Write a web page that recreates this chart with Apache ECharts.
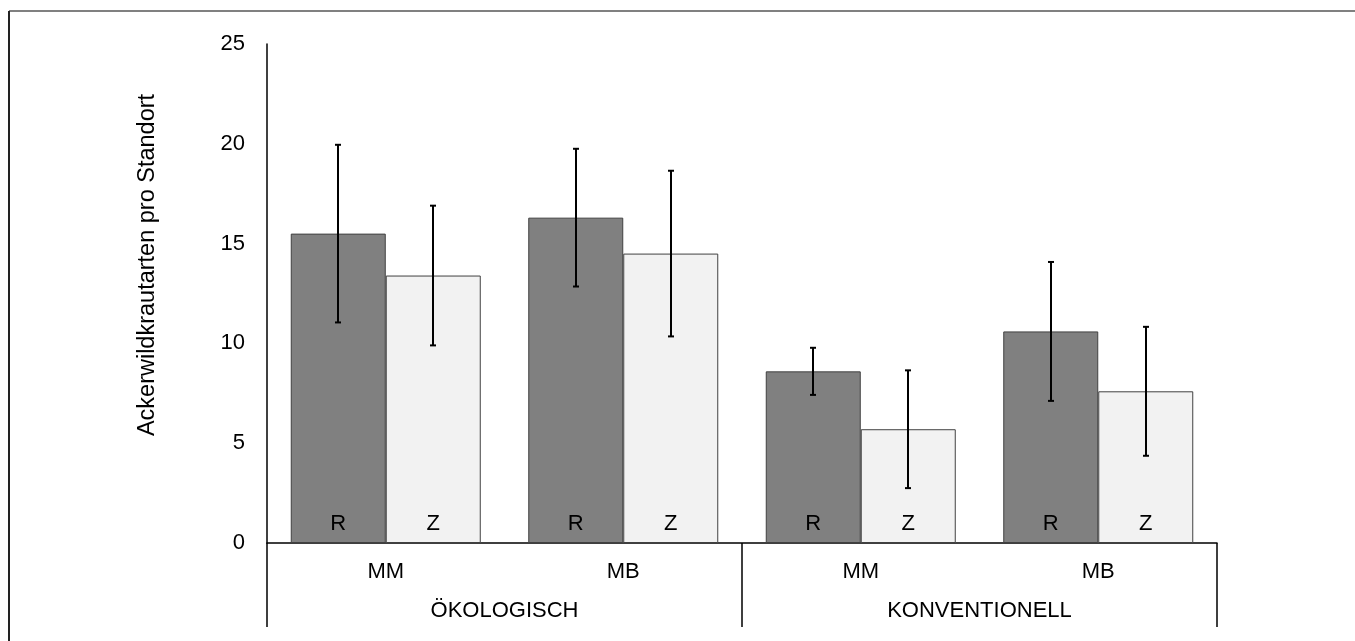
<!DOCTYPE html>
<html>
<head>
<meta charset="utf-8">
<script src="https://cdn.jsdelivr.net/npm/echarts@6/dist/echarts.min.js"></script>
<style>
  html, body { margin: 0; padding: 0; background: #fff; }
  #chart { width: 1355px; height: 641px; }
</style>
</head>
<body>
<div id="chart"></div>
<script>
// Site categories and farming systems
const sites = ['MM', 'MB', 'MM', 'MB'];
const systems = ['ÖKOLOGISCH', 'KONVENTIONELL'];
const yTicks = [0, 5, 10, 15, 20, 25];
const yTitle = 'Ackerwildkrautarten pro Standort';

// Mean weed species per site (R / Z) and their error ranges
const meanR = [15.5, 16.3, 8.6, 10.6];
const errR  = [4.45, 3.45, 1.18, 3.48];
const meanZ = [13.4, 14.5, 5.7, 7.6];
const errZ  = [3.5, 4.15, 2.95, 3.23];

const FONT = "'Liberation Sans', Arial, sans-serif";
const FS = 22;
const chart = echarts.init(document.getElementById('chart'));

const CAT_GAP = 0.2;

function errorSeries(means, errs, side) {
  return {
    type: 'custom',
    xAxisIndex: 0,
    yAxisIndex: 0,
    z: 10,
    silent: true,
    data: means.map((m, i) => [i, m - errs[i], m + errs[i]]),
    renderItem: function (params, api) {
      const catW = api.size([1, 0])[0];
      const barW = catW * (1 - CAT_GAP) / 2;
      const lo = api.coord([api.value(0), api.value(1)]);
      const hi = api.coord([api.value(0), api.value(2)]);
      const x = Math.round(lo[0] + side * barW / 2);
      const cap = 3;
      const style = { stroke: '#000', lineWidth: 2 };
      return {
        type: 'group',
        children: [
          { type: 'line', shape: { x1: x, y1: hi[1], x2: x, y2: lo[1] }, style: style },
          { type: 'line', shape: { x1: x - cap, y1: hi[1], x2: x + cap, y2: hi[1] }, style: style },
          { type: 'line', shape: { x1: x - cap, y1: lo[1], x2: x + cap, y2: lo[1] }, style: style }
        ]
      };
    }
  };
}

function barSeries(name, values, color) {
  return {
    name: name,
    type: 'bar',
    data: values,
    barGap: '0%',
    barCategoryGap: (CAT_GAP * 100) + '%',
    itemStyle: { color: color, borderColor: '#404040', borderWidth: 1 },
    label: {
      show: true,
      position: 'insideBottom',
      distance: 8,
      formatter: name,
      color: '#000',
      fontFamily: FONT,
      fontSize: FS
    }
  };
}

chart.setOption({
  animation: false,
  backgroundColor: '#fff',
  grid: { left: 267, right: 138, top: 44, bottom: 98, containLabel: false },
  xAxis: [
    {
      type: 'category',
      data: sites,
      axisLine: { show: true, lineStyle: { color: '#000', width: 1.5 } },
      axisTick: { show: false },
      axisLabel: { color: '#000', fontFamily: FONT, fontSize: FS, margin: 18 }
    },
    {
      type: 'category',
      data: systems,
      position: 'bottom',
      axisLine: { show: false },
      axisTick: { show: true, length: 84, lineStyle: { color: '#000', width: 1.5 } },
      axisLabel: { color: '#000', fontFamily: FONT, fontSize: FS, margin: 57 }
    }
  ],
  yAxis: {
    type: 'value',
    min: yTicks[0],
    max: yTicks[yTicks.length - 1],
    interval: 5,
    axisLine: { show: true, lineStyle: { color: '#000', width: 1.5 } },
    axisTick: { show: false },
    splitLine: { show: false },
    axisLabel: { color: '#000', fontFamily: FONT, fontSize: FS, margin: 22 }
  },
  graphic: [
    { type: 'line', shape: { x1: 9, y1: 11, x2: 1355, y2: 11 }, style: { stroke: '#808080', lineWidth: 2 } },
    { type: 'line', shape: { x1: 9, y1: 11, x2: 9, y2: 641 }, style: { stroke: '#222', lineWidth: 2 } },
    {
      type: 'text',
      x: 148,
      y: 265,
      rotation: Math.PI / 2,
      style: {
        text: yTitle,
        fill: '#000',
        font: '23.5px ' + FONT,
        align: 'center',
        verticalAlign: 'middle'
      }
    }
  ],
  series: [
    barSeries('R', meanR, '#808080'),
    barSeries('Z', meanZ, '#f2f2f2'),
    errorSeries(meanR, errR, -1),
    errorSeries(meanZ, errZ, 1)
  ]
});
</script>
</body>
</html>
